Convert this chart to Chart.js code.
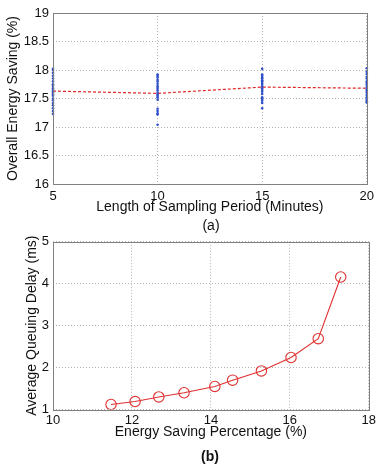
<!DOCTYPE html>
<html>
<head>
<meta charset="utf-8">
<script src="https://cdn.jsdelivr.net/npm/chart.js@4/dist/chart.umd.min.js"></script>
<style>
  body { margin: 0; background: #fff; width: 379px; height: 467px; position: relative; overflow: hidden; font-family: "Liberation Sans", Arial, sans-serif; }
  .box { position: absolute; left: 0; }
  .tag { position: absolute; width: 379px; left: 0; font-size: 14px; color: #111; }
  .tag span { position: absolute; transform: translate(-50%, -50%); }
</style>
</head>
<body>
<div class="box" style="top:0"><canvas id="chartA" width="379" height="230"></canvas></div>
<div class="box" style="top:230px"><canvas id="chartB" width="379" height="237"></canvas></div>
<div class="tag" style="top:225px"><span style="left:211px">(a)</span></div>
<div class="tag" style="top:456px"><span style="left:210px;font-weight:bold">(b)</span></div>
<script>
// (a) energy saving vs sampling period
const periods = [5, 10, 15, 20];
const meanSaving = [17.63, 17.59, 17.70, 17.68];
const runs5 = [18.02, 18.0, 17.95, 17.9, 17.85, 17.8, 17.75, 17.72, 17.68, 17.65, 17.62, 17.6, 17.57, 17.55, 17.5, 17.47, 17.42, 17.38, 17.33, 17.28, 17.23];
const runs10 = [17.92, 17.9, 17.87, 17.83, 17.8, 17.76, 17.72, 17.7, 17.67, 17.64, 17.6, 17.57, 17.55, 17.52, 17.48, 17.32, 17.28, 17.24, 17.22, 17.04];
const runs15 = [18.02, 17.92, 17.9, 17.87, 17.85, 17.82, 17.8, 17.77, 17.74, 17.71, 17.68, 17.65, 17.62, 17.58, 17.52, 17.49, 17.46, 17.42, 17.33];
const runs20 = [18.03, 17.97, 17.93, 17.88, 17.85, 17.8, 17.77, 17.74, 17.7, 17.66, 17.63, 17.6, 17.56, 17.52, 17.48, 17.45, 17.43];
const savingTicks = [16, 16.5, 17, 17.5, 18, 18.5, 19];

// (b) delay vs energy saving
const savingPct = [11.47, 12.08, 12.68, 13.32, 14.10, 14.55, 15.28, 16.03, 16.72, 17.29];
const queueDelay = [1.12, 1.19, 1.30, 1.40, 1.55, 1.70, 1.92, 2.24, 2.69, 4.16];

const FONT = "'Liberation Sans', Arial, sans-serif";
Chart.defaults.font.family = FONT;
Chart.defaults.color = "#111";

const frame = {
    id: "frame",
    afterDraw(chart) {
        const a = chart.chartArea, ctx = chart.ctx;
        ctx.save();
        ctx.strokeStyle = "#808080";
        ctx.lineWidth = 1;
        ctx.strokeRect(Math.round(a.left) + 0.5, Math.round(a.top) + 0.5, Math.round(a.right - a.left), Math.round(a.bottom - a.top));
        ctx.restore();
    }
};

function gridOpts() {
    return { color: "#b4b4b4", drawTicks: false, lineWidth: 1 };
}

// plain numbers like matlab: 16, 16.5, 17 ...
function plainLabel(v) { return String(v); }

const allRuns = [runs5, runs10, runs15, runs20];
const runPoints = [];
allRuns.forEach(function (list, i) {
    list.forEach(function (v) { runPoints.push({ x: periods[i], y: v }); });
});

new Chart(document.getElementById("chartA"), {
    type: "scatter",
    data: {
        datasets: [{
            data: runPoints,
            pointRadius: 1.3,
            pointBackgroundColor: "#3050c8",
            pointBorderWidth: 0,
            showLine: false,
            clip: false
        }, {
            data: periods.map((p, i) => ({ x: p, y: meanSaving[i] })),
            showLine: true,
            borderColor: "#e02828",
            borderWidth: 1.2,
            borderDash: [3, 2],
            pointRadius: 0
        }]
    },
    options: {
        responsive: false,
        animation: false,
        layout: { padding: { top: 13, right: 10, left: 0, bottom: 0 } },
        plugins: { legend: { display: false }, tooltip: { enabled: false } },
        scales: {
            x: {
                type: "linear", min: 5, max: 20,
                afterFit(s) { s.height = 46; },
                grid: gridOpts(),
                border: { display: false, dash: [1, 2] },
                ticks: { stepSize: 5, padding: 5, font: { size: 13 }, maxRotation: 0, callback: plainLabel },
                title: { display: true, text: "Length of Sampling Period (Minutes)", font: { size: 14 }, padding: { top: 0, bottom: 14 } }
            },
            y: {
                min: 16, max: 19,
                afterFit(s) { s.width = 53; },
                afterBuildTicks(s) { s.ticks = savingTicks.map(v => ({ value: v })); },
                grid: gridOpts(),
                border: { display: false, dash: [1, 2] },
                ticks: { padding: 4, font: { size: 13 }, callback: plainLabel },
                title: { display: true, text: "Overall Energy Saving (%)", font: { size: 14 }, padding: { top: 5, bottom: 0 } }
            }
        }
    },
    plugins: [frame]
});

new Chart(document.getElementById("chartB"), {
    type: "scatter",
    data: {
        datasets: [{
            data: savingPct.map((s, i) => ({ x: s, y: queueDelay[i] })),
            showLine: true,
            borderColor: "#e03030",
            borderWidth: 1.1,
            pointRadius: 5.2,
            pointBorderWidth: 1.1,
            pointBorderColor: "#e03030",
            pointBackgroundColor: "rgba(0,0,0,0)"
        }]
    },
    options: {
        responsive: false,
        animation: false,
        layout: { padding: { top: 10, right: 10, left: 0, bottom: 0 } },
        plugins: { legend: { display: false }, tooltip: { enabled: false } },
        scales: {
            x: {
                type: "linear", min: 10, max: 18,
                afterFit(s) { s.height = 57.5; },
                grid: gridOpts(),
                border: { display: false, dash: [1, 2] },
                ticks: { stepSize: 2, padding: 3, font: { size: 13 }, maxRotation: 0, callback: plainLabel },
                title: { display: true, text: "Energy Saving Percentage (%)", font: { size: 14 }, padding: { top: 0, bottom: 26 } }
            },
            y: {
                min: 1, max: 5,
                afterFit(s) { s.width = 53; },
                grid: gridOpts(),
                border: { display: false, dash: [1, 2] },
                ticks: { stepSize: 1, padding: 4, font: { size: 13 }, callback: plainLabel },
                title: { display: true, text: "Average Queuing Delay (ms)", font: { size: 14 }, padding: { top: 24, bottom: 0 } }
            }
        }
    },
    plugins: [frame]
});
</script>
</body>
</html>
